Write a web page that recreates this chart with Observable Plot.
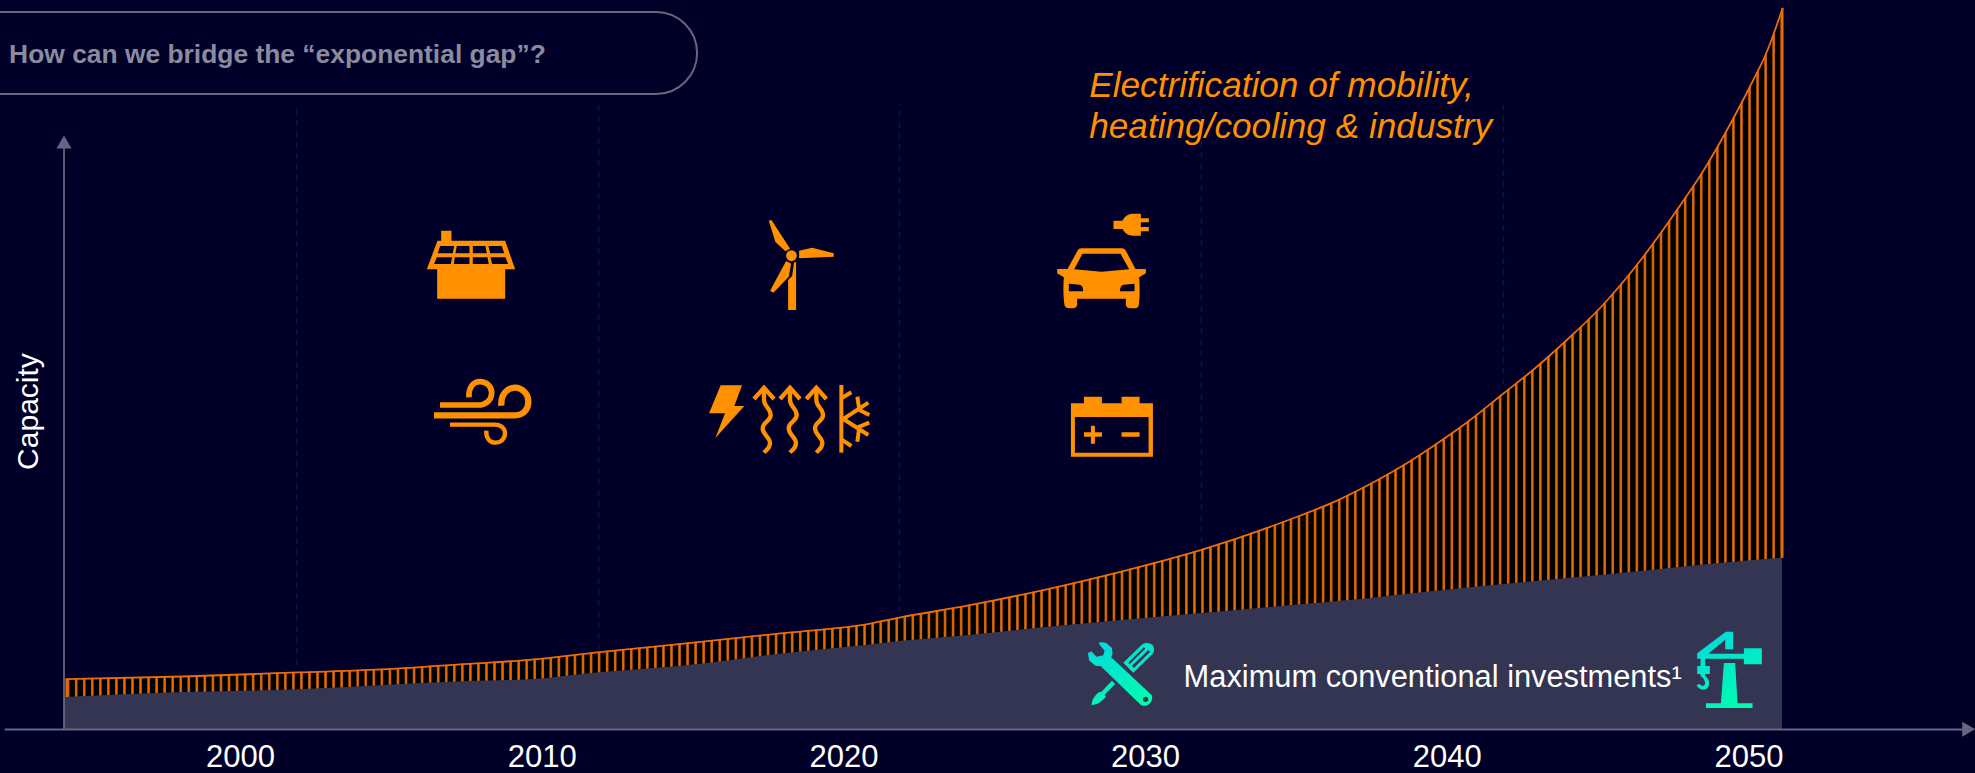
<!DOCTYPE html>
<html>
<head>
<meta charset="utf-8">
<title>Exponential gap</title>
<script src="https://cdn.jsdelivr.net/npm/d3@7"></script>
<script src="https://cdn.jsdelivr.net/npm/@observablehq/plot@0.6"></script>
<style>
  html, body { margin: 0; padding: 0; background: #000028; overflow: hidden; }
  svg { display: block; }
</style>
</head>
<body>
<div id="chart"></div>
<script>
// Total capacity demand (top curve), indexed to 100 at the end of the period.
const demandYears = [1994.23, 1998.08, 2001.89, 2004.86, 2007.56, 2009.58, 2011.9, 2015.25, 2016.51, 2017.78, 2019.06, 2020.7, 2021.84, 2024.13, 2026.65, 2029.2, 2031.85, 2035.13, 2036.23, 2037.35, 2038.45, 2039.54, 2040.67, 2041.86, 2042.86, 2043.98, 2045.08, 2046.4, 2047.83, 2048.39, 2048.95, 2049.48, 2050.05, 2050.61, 2051.11];
const demandValues = [6.98, 7.35, 7.91, 8.36, 9.11, 9.67, 10.72, 12.16, 12.72, 13.27, 13.77, 14.56, 15.53, 17.2, 19.38, 21.91, 24.92, 29.68, 31.53, 33.84, 36.41, 39.33, 42.65, 46.6, 49.93, 54.09, 58.53, 65.05, 73.37, 76.84, 80.76, 84.74, 89.32, 94.17, 100];

// Capacity reachable with conventional investment (lower curve).
const conventionalYears = [1994.15, 1998.08, 2001.89, 2004.86, 2007.56, 2009.58, 2011.9, 2015.25, 2016.51, 2017.78, 2019.06, 2020.7, 2021.84, 2024.13, 2026.65, 2029.2, 2031.85, 2035.13, 2036.75, 2039.54, 2042.32, 2046.17, 2049.48, 2051.11];
const conventionalValues = [4.44, 5.13, 5.51, 6.14, 6.66, 6.89, 7.86, 9.06, 9.71, 10.4, 10.96, 11.65, 12.2, 13.04, 14.15, 15.12, 16.09, 17.3, 17.89, 19.14, 20.29, 21.82, 23.2, 23.76];

const tickYears = [2000, 2010, 2020, 2030, 2040, 2050];

// Faint decade guides and the capacity where each one stops.
const guideYears = [2001.86, 2011.87, 2021.84, 2031.85, 2041.86];
const guideEnds = [8.88, 10.96, 16.23, 25.8, 47.71];
const guideTop = 86.6;

const title = "How can we bridge the “exponential gap”?";
const gapLines = ["Electrification of mobility,", "heating/cooling & industry"];
const conventionalLabel = "Maximum conventional investments¹";
const yLabel = "Capacity";

const bg = "#000028", orange = "#FF9100", hatch = "#EA6D05", axisColor = "#66667E", slate = "#343453";
const font = "'Liberation Sans', Arial, sans-serif";

// Icon outlines, drawn around their own centre [cx, cy] at one third scale.
const iconFill = [
  {name: "solar house", year: 2007.65, value: 64.45, cx: 212, cy: 193,
   d: "M123 92H154V122H315L345 208H315V296H111V208H80L112 122H123Z M120 138H162L158 160H113Z M170 138H208V160H166Z M218 138H256L260 160H218Z M265 138H305L312 160H270Z M110 172H156L152 192H102Z M164 172H208V192H161Z M218 172H262L266 192H218Z M271 172H316L324 192H276Z"},
  {name: "turbine", year: 2018.62, value: 64.36, cx: 1205, cy: 195,
   d: "M1106 62L1114 60L1170 146L1156 154L1126 126Z M1197 152L1236 143L1301 160V170L1197 175Z M1158 183L1173 191L1166 230L1120 278L1110 272Z M1182 187L1188 187V330H1164V240L1176 228Z M1158 167A16 16 0 1 0 1190 167A16 16 0 1 0 1158 167Z"},
  {name: "bolt", year: 2018.23, value: 43.09, cx: 1170, cy: 655,
   d: "M962 556H1026L1003 618H1033L946 714L975 640H927Z"},
  {name: "electric car", year: 2028.61, value: 64.91, cx: 250, cy: 213,
   d: "M281 92H308C315 78 325 71 340 71H363V85H387V97H363V111H387V124H363V137H340C325 137 315 130 308 117H281Z M185 175H305C312 175 316 178 319 184L347 237H378V250L358 262C360 290 360 320 357 345C356 352 350 355 345 355H330C322 355 318 350 318 343V326H172V343C172 350 168 355 160 355H146C140 355 135 350 134 345C130 320 130 290 132 262L112 250V237H143L172 184C175 178 178 175 185 175Z M188 191H302L328 238L245 245L163 238Z M147 281L180 284C187 286 190 292 190 304H147Z M344 281L311 284C304 286 301 292 300 304H344Z"},
  {name: "battery", year: 2028.9, value: 41.93, cx: 276, cy: 710,
   d: "M153 640H192V620H246V640H305V620H359V640H399V800H153Z M165 681H386V788H165Z M192 727H213V707H225V727H246V740H225V761H213V740H192Z M305 727H359V740H305Z"}
];

const iconStroke = [
  {name: "wind", year: 2008.01, value: 43.78, cx: 245, cy: 640, paths: [
    {w: 19, d: "M102 646H345C372 646 385 625 385 605C385 580 365 563 345 563C320 563 302 585 304 617"},
    {w: 17, d: "M120 615H235C258 615 275 600 275 578C275 558 258 545 240 545C218 545 205 565 207 592"},
    {w: 13, d: "M150 674H285C303 674 315 685 315 700C315 718 300 728 287 728C270 728 257 715 259 692"}
  ]},
  {name: "heating and cooling", year: 2018.23, value: 43.09, cx: 1170, cy: 655, paths: [0, 78, 157].flatMap(dx => [
    {w: 13, d: `M${1062 + dx} 597L${1092 + dx} 563L${1122 + dx} 597`},
    {w: 13, d: `M${1092 + dx} 563V600C${1092 + dx} 620 ${1112 + dx} 625 ${1112 + dx} 645C${1112 + dx} 665 ${1088 + dx} 665 ${1088 + dx} 685C${1088 + dx} 705 ${1110 + dx} 710 ${1110 + dx} 730C${1110 + dx} 745 ${1098 + dx} 750 ${1092 + dx} 758`}
  ]).concat([
    {w: 12, d: "M1324 555V758"},
    {w: 12, d: "M1324 595L1354 577M1324 718L1354 738"},
    {w: 12, d: "M1330 657L1405 608M1372 590L1378 630L1408 645M1330 657L1405 705M1408 668L1378 680L1372 725"}
  ])}
];

const iconTeal = [
  {name: "tools", year: 2029.22, value: 7.63, cx: 155, cy: 132,
   d: "M86 40C90 36 100 36 110 40L126 54L128 72L124 82L245 195C250 205 245 218 235 224C225 230 215 228 210 222L92 108L78 108L58 92L54 70L64 64L80 80L100 76L104 62Z M219 208A8 8 0 1 0 235 208A8 8 0 1 0 219 208Z M160 98L215 45C225 36 240 38 248 45C254 52 254 65 248 72L190 128Z M175 98L222 52L226 56L180 102Z M186 107L236 60L240 66L192 114Z M126 152L136 162L104 194L108 200C95 215 85 222 65 226C65 210 75 195 88 186L94 186Z"},
  {name: "crane", year: 2049.36, value: 8.18, cx: 148, cy: 150,
   d: "M138 35H160V88H136V59L85 101H192V85H246V133H192V116H76V138H90V162H76V168C88 175 92 195 82 205C72 212 56 210 50 195L60 192C63 198 72 200 75 193C78 185 70 172 62 168V162H52V138H62V116H52V100Z M132 129H166L173 250H218V264H78V250H123Z"}
];

// Shared paint servers: the vertical hatch of the gap and the teal icon gradient.
function defs() {
  const g = d3.create("svg:defs");
  const tile = 8.045;
  const p = g.append("pattern").attr("id", "gap-hatch").attr("patternUnits", "userSpaceOnUse")
    .attr("x", 1781.7 - tile / 2).attr("y", 0).attr("width", tile).attr("height", 800);
  p.append("rect").attr("width", tile).attr("height", 800).attr("fill", "#000000");
  p.append("rect").attr("x", tile / 2 - 1.2).attr("width", 2.4).attr("height", 800).attr("fill", hatch);
  const t = g.append("linearGradient").attr("id", "teal").attr("x1", 0.25).attr("y1", 0).attr("x2", 0.65).attr("y2", 1);
  t.append("stop").attr("offset", 0).attr("stop-color", "#00DCDC");
  t.append("stop").attr("offset", 1).attr("stop-color", "#00FCB0");
  return g.node();
}

// Places the icon outlines through the chart's scales.
function icons(index, {x, y}) {
  const g = d3.create("svg:g");
  const place = (i) => g.append("g")
    .attr("aria-label", i.name)
    .attr("transform", `translate(${x(i.year)},${y(i.value)}) scale(${1 / 3}) translate(${-i.cx},${-i.cy})`);
  for (const i of iconFill) place(i).append("path").attr("d", i.d).attr("fill", orange).attr("fill-rule", "evenodd");
  for (const i of iconStroke) {
    const n = place(i);
    for (const s of i.paths) n.append("path").attr("d", s.d).attr("fill", "none").attr("stroke", orange).attr("stroke-width", s.w);
  }
  for (const i of iconTeal) place(i).append("path").attr("d", i.d).attr("fill", "url(#teal)").attr("fill-rule", "evenodd");
  return g.node();
}

const demand = demandYears.map((year, i) => ({year, value: demandValues[i]}));
const conventional = conventionalYears.map((year, i) => ({year, value: conventionalValues[i]}));
const guides = guideYears.map((year, i) => ({year, end: guideEnds[i]}));

const plot = Plot.plot({
  width: 1975,
  height: 773,
  marginTop: 8,
  marginBottom: 44,
  marginLeft: 0,
  marginRight: 0,
  style: {background: bg, fontFamily: font, color: "#fff"},
  x: {domain: [1992.045, 2057.507], axis: null},
  y: {domain: [0, 100], axis: null},
  marks: [
    defs,
    Plot.ruleX(guides, {x: "year", y1: "end", y2: guideTop, stroke: "#141436", strokeWidth: 1.5, strokeDasharray: "6 5"}),
    Plot.areaY(demand, {x: "year", y1: 0, y2: "value", curve: "monotone-x", fill: "url(#gap-hatch)"}),
    Plot.areaY(conventional, {x: "year", y1: 0, y2: "value", curve: "monotone-x", fill: slate}),
    Plot.line(demand, {x: "year", y: "value", curve: "monotone-x", stroke: hatch, strokeWidth: 1.8}),
    Plot.ruleX([demandYears[0]], {y1: conventionalValues[0], y2: demandValues[0], stroke: hatch, strokeWidth: 2}),
    Plot.ruleX([demandYears.at(-1)], {y1: conventionalValues.at(-1), y2: demandValues.at(-1), stroke: hatch, strokeWidth: 2}),

    // Capacity and time axes, each ending in an arrowhead.
    Plot.ruleY([0], {x1: 1992.2, x2: 2057.2, stroke: axisColor, strokeWidth: 2}),
    Plot.ruleX([1994.15], {y1: 0, y2: 81, stroke: axisColor, strokeWidth: 1.8}),
    Plot.dot([{x: 1994.15, y: 81.18}], {x: "x", y: "y", symbol: "triangle", r: 5.6, fill: axisColor}),
    Plot.dot([{x: 2057.21, y: 0.04}], {x: "x", y: "y", symbol: "triangle", r: 5.6, fill: axisColor, rotate: 90}),
    Plot.axisX({ticks: tickYears, tickFormat: String, tickSize: 0, tickPadding: 15, fontSize: 31, label: null, fill: "#fff", stroke: null}),

    // Title pill and annotations.
    Plot.rect([{}], {x1: 1988, x2: 2015.15, y1: 88.07, y2: 99.45, rx: 41, fill: "none", stroke: axisColor, strokeWidth: 2}),
    Plot.text([title], {x: 1992.33, y: 92.51, text: d => d, textAnchor: "start", lineAnchor: "bottom", fontSize: 26.4, fontWeight: "bold", fill: "#8B8B9F"}),
    Plot.text([gapLines[0]], {x: 2028.13, y: 87.7, text: d => d, textAnchor: "start", lineAnchor: "bottom", fontSize: 35.2, fontStyle: "italic", fill: orange}),
    Plot.text([gapLines[1]], {x: 2028.13, y: 81.97, text: d => d, textAnchor: "start", lineAnchor: "bottom", fontSize: 35.2, fontStyle: "italic", fill: orange}),
    Plot.text([conventionalLabel], {x: 2031.26, y: 5.96, text: d => d, textAnchor: "start", lineAnchor: "bottom", fontSize: 30.8, fill: "#fff"}),
    Plot.text([yLabel], {x: 1992.97, y: 44.1, text: d => d, rotate: -90, textAnchor: "middle", fontSize: 30, fill: "#fff"}),
    icons
  ]
});

document.getElementById("chart").append(plot);
</script>
</body>
</html>
